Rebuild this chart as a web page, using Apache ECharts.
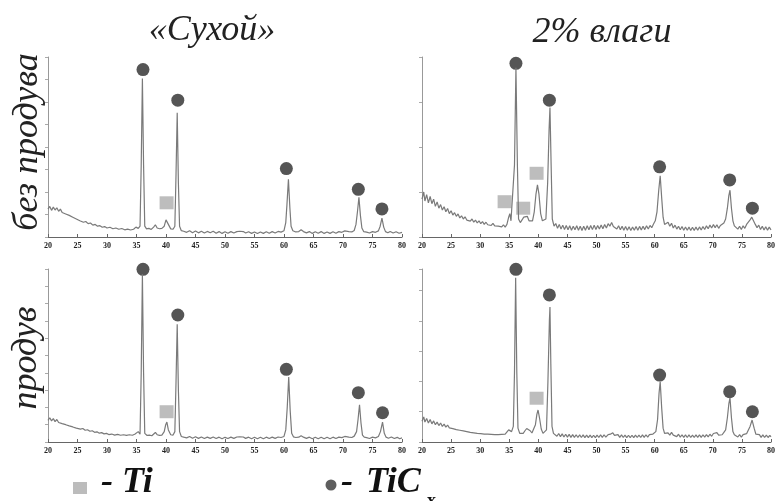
<!DOCTYPE html>
<html><head><meta charset="utf-8">
<script src="https://cdn.jsdelivr.net/npm/echarts@6/dist/echarts.min.js"></script>
<style>html,body{margin:0;padding:0;background:#fff}#c{width:778px;height:501px}</style>
</head><body><div id="c"></div>
<script>
// Column / row titles
const colTitles = ['«Сухой»', '2% влаги'];
const rowTitles = ['без продува', 'продув'];
const legendLabels = ['Ti', 'TiC', 'x'];
const xTicks = [20, 80, 5];

// Panel A: «Сухой», без продува  [2θ, intensity %]
const patternA = [[20,15.5],[20.3,17],[20.6,14.8],[20.9,16.6],[21.2,15],[21.5,16.2],[21.8,14.3],[22.1,15.5],[22.4,13.6],[22.7,14.4],[23,12.8],[23.3,13.5],[23.6,12],[23.9,12.6],[24.2,11],[24.5,11.5],[24.8,10],[25.1,10.4],[25.4,9],[25.7,9.4],[26,8.2],[26.4,8.6],[26.8,7.4],[27.2,7.8],[27.6,6.6],[28,7],[28.4,6],[28.8,6.3],[29.2,5.4],[29.6,5.8],[30,5],[30.5,5.4],[31,4.6],[31.5,5],[32,4.3],[32.5,4.7],[33,4],[33.5,4.4],[34,3.9],[34.5,4.3],[34.9,5.5],[35.1,6.5],[35.3,4.8],[35.6,6],[35.8,40],[36,88],[36.2,40],[36.4,6],[36.7,4.5],[37.1,4.8],[37.5,4.2],[37.9,5.5],[38.2,6.8],[38.5,5],[38.9,4.6],[39.3,4.8],[39.7,6],[40,9.5],[40.15,10.5],[40.4,7],[40.8,4.5],[41.2,4.3],[41.5,6],[41.7,35],[41.9,69],[42.1,30],[42.3,6],[42.6,3.5],[43,3.2],[43.5,2.6],[44,3.5],[44.5,2.4],[45,3.3],[45.5,2.3],[46,3.2],[46.5,2.2],[47,3.1],[47.5,2.4],[48,3.2],[48.5,2.1],[49,3],[49.5,2],[50,2.9],[50.5,2.1],[51,3],[51.5,2.2],[52,3],[52.5,3.2],[52.8,4],[53.1,3],[53.5,2.2],[54,2.9],[54.5,2],[55,2.8],[55.5,1.9],[56,2.8],[56.5,2],[57,2.9],[57.5,2.1],[58,3],[58.5,2.2],[59,3.1],[59.5,2.7],[60,3.5],[60.3,8],[60.5,18],[60.75,32],[61,16],[61.2,6],[61.5,3.5],[62,2.8],[62.5,3],[62.9,4],[63.3,3],[63.8,2.3],[64.3,3],[64.8,2],[65.3,2.9],[65.8,2.1],[66.3,3],[66.8,2],[67.3,2.8],[67.8,2],[68.3,2.9],[68.8,2.1],[69.3,3],[69.8,2.6],[70.3,3.4],[70.6,3.8],[71,3],[71.5,2.8],[71.9,3.6],[72.2,7],[72.45,14],[72.7,22],[72.95,12],[73.2,5],[73.5,3],[74,2.7],[74.5,2.2],[75,3],[75.5,2.6],[76,3.4],[76.3,6],[76.6,10.5],[76.9,5.5],[77.2,3],[77.6,2.4],[78,3.1],[78.5,2.2],[79,2.9],[79.5,2.1],[80,2.6]];
const ticA = [[36.1,93],[42.0,76],[60.4,38],[72.6,26.5],[76.6,15.6]];
const tiA = [[40.1,19]];

// Panel B: 2% влаги, без продува
const patternB = [[20,21],[20.3,25],[20.5,20],[20.8,23.5],[21.1,19],[21.4,22.5],[21.7,18.5],[22,21],[22.3,17],[22.6,19.5],[22.9,16],[23.2,18],[23.5,15],[23.8,16.8],[24.1,14],[24.4,15.8],[24.7,13],[25,14.6],[25.3,12.2],[25.6,13.5],[25.9,11.5],[26.2,12.8],[26.5,10.6],[26.8,11.8],[27.1,10],[27.4,11.2],[27.7,9.4],[28,10.5],[28.3,8.8],[28.6,10],[28.9,8.2],[29.2,9.4],[29.5,7.8],[29.8,9],[30.1,7.4],[30.4,8.6],[30.7,7],[31,8.2],[31.3,6.8],[31.6,7.9],[31.9,6.4],[32.2,7.6],[32.5,6.2],[32.8,7.3],[33.1,6],[33.4,7],[33.7,5.6],[34,6.8],[34.3,5.5],[34.6,7],[34.9,11],[35.1,13],[35.3,9],[35.6,8],[35.9,40],[36.15,94],[36.4,40],[36.6,10],[36.9,8],[37.2,9.5],[37.5,11],[37.8,10.5],[38.1,11.5],[38.4,9],[38.7,8],[39,9],[39.3,14],[39.6,24],[39.85,29],[40.1,24],[40.4,13],[40.7,9],[41,8.5],[41.3,10],[41.6,30],[41.85,60],[42,72],[42.2,40],[42.4,10],[42.7,6],[43,7.5],[43.3,4.8],[43.6,7],[43.9,4.4],[44.2,6.6],[44.5,4.2],[44.8,6.4],[45.1,4],[45.4,6.2],[45.7,3.8],[46,6],[46.3,4],[46.6,6.2],[46.9,3.8],[47.2,6],[47.5,3.6],[47.8,6],[48.1,3.8],[48.4,6.2],[48.7,4],[49,6.4],[49.3,4.1],[49.6,6.6],[49.9,4.2],[50.2,6.4],[50.5,4.4],[50.8,6.7],[51.1,4.6],[51.4,6.9],[51.7,5],[52,7.4],[52.3,6],[52.6,8],[52.9,5.8],[53.2,6.8],[53.5,4.4],[53.8,6.2],[54.1,4],[54.4,6],[54.7,3.8],[55,5.8],[55.3,3.7],[55.6,5.7],[55.9,3.6],[56.2,5.6],[56.5,3.7],[56.8,5.8],[57.1,3.8],[57.4,5.9],[57.7,3.9],[58,6],[58.3,4.1],[58.6,6.2],[58.9,4.4],[59.2,6.4],[59.5,5.2],[59.8,7.2],[60.1,9],[60.4,14],[60.7,26],[60.95,34],[61.2,22],[61.45,11],[61.7,7],[62,6.5],[62.3,8.2],[62.6,6],[62.9,7.6],[63.2,5],[63.5,6.6],[63.8,4.4],[64.1,6],[64.4,4],[64.7,5.8],[65,3.8],[65.3,5.6],[65.6,3.7],[65.9,5.5],[66.2,3.6],[66.5,5.4],[66.8,3.6],[67.1,5.5],[67.4,3.7],[67.7,5.6],[68,3.9],[68.3,5.8],[68.6,4.2],[68.9,6.2],[69.2,4.6],[69.5,6.6],[69.8,5],[70.1,6.9],[70.4,5.2],[70.7,6.8],[71,4.8],[71.3,6.4],[71.6,5.4],[71.9,7.8],[72.2,10],[72.5,16],[72.75,23],[72.95,26],[73.2,16],[73.45,9],[73.7,6.2],[74,6.2],[74.3,4.4],[74.6,6],[74.9,4.2],[75.2,6.2],[75.5,4.8],[75.8,7],[76.1,7.5],[76.4,9.5],[76.7,11],[77,10],[77.3,7],[77.6,5.2],[77.9,6.6],[78.2,4.2],[78.5,6],[78.8,3.9],[79.1,5.7],[79.4,3.8],[79.7,5.5],[80,4]];
const ticB = [[36.15,96.5],[41.9,76],[60.85,39],[72.9,31.7],[76.8,16]];
const tiB = [[34.2,19.6],[37.4,16],[39.7,35.4]];

// Panel C: «Сухой», продув
const patternC = [[20,12.5],[20.3,14],[20.6,12.2],[20.9,13.5],[21.2,11.8],[21.5,13],[21.8,11.3],[22.1,12.2],[22.4,10.6],[22.7,11.4],[23,10],[23.3,10.6],[23.6,9.3],[23.9,9.9],[24.2,8.7],[24.5,9.2],[24.8,8],[25.1,8.5],[25.5,7.4],[25.9,7.8],[26.3,6.8],[26.7,7.1],[27.1,6.2],[27.5,6.5],[27.9,5.6],[28.3,5.9],[28.7,5.1],[29.1,5.4],[29.5,4.7],[29.9,5],[30.3,4.3],[30.8,4.6],[31.3,4],[31.8,4.4],[32.3,3.9],[32.8,4.2],[33.3,3.8],[33.8,4.2],[34.3,3.9],[34.7,4.5],[35,5.5],[35.3,6],[35.6,4.5],[35.8,40],[36,97],[36.2,40],[36.4,5],[36.8,3.8],[37.2,4],[37.6,3.6],[37.9,4.6],[38.2,5.5],[38.5,4.2],[38.9,3.8],[39.3,4],[39.7,6],[39.95,10],[40.15,11.5],[40.4,7],[40.8,4.2],[41.2,4],[41.5,6],[41.7,35],[41.9,68],[42.1,30],[42.3,6],[42.6,3.2],[43,2.8],[43.5,2.4],[44,3.2],[44.5,2.2],[45,3],[45.5,2.1],[46,2.9],[46.5,2],[47,2.8],[47.5,2.1],[48,2.9],[48.5,2],[49,2.8],[49.5,1.9],[50,2.7],[50.5,2],[51,2.8],[51.5,2.1],[52,2.9],[52.5,3],[52.8,3.8],[53.1,2.9],[53.5,2.1],[54,2.8],[54.5,1.9],[55,2.7],[55.5,1.9],[56,2.7],[56.5,1.9],[57,2.8],[57.5,2],[58,2.8],[58.5,2.1],[59,2.9],[59.5,2.6],[60,3.2],[60.3,7],[60.55,20],[60.8,37.6],[61.05,18],[61.3,5],[61.6,3],[62,2.6],[62.5,2.8],[62.9,3.6],[63.3,2.8],[63.8,2.1],[64.3,2.8],[64.8,1.9],[65.3,2.7],[65.8,1.9],[66.3,2.8],[66.8,1.9],[67.3,2.7],[67.8,1.9],[68.3,2.8],[68.8,2],[69.3,2.8],[69.8,2.5],[70.3,3.2],[70.6,3.6],[71,2.8],[71.5,2.6],[71.9,3.4],[72.3,6],[72.55,13],[72.8,21.5],[73.05,11],[73.3,4],[73.6,2.8],[74,2.5],[74.5,2],[75,2.8],[75.5,2.4],[76,3.2],[76.35,6],[76.7,11.5],[77,5],[77.3,2.8],[77.7,2.2],[78.2,2.9],[78.7,2],[79.2,2.7],[79.6,1.9],[80,2.4]];
const ticC = [[36.1,99.8],[42.0,73.4],[60.4,42],[72.6,28.5],[76.7,16.9]];
const tiC = [[40.1,17.5]];

// Panel D: 2% влаги, продув
const patternD = [[20,12],[20.3,14.5],[20.5,11.5],[20.8,13.6],[21.1,11],[21.4,13],[21.7,10.5],[22,12.2],[22.3,10],[22.6,11.5],[22.9,9.5],[23.2,11],[23.5,9],[23.8,10.3],[24.1,8.6],[24.4,9.8],[24.7,8.2],[25,9.2],[25.3,7.7],[25.6,8.7],[25.9,7.2],[26.2,8.2],[26.5,6.8],[26.8,7.7],[27.1,6.4],[27.4,7.2],[27.7,6],[28,6.9],[28.3,5.6],[28.6,6.5],[28.9,5.3],[29.2,6.1],[29.5,5],[29.8,5.9],[30.1,4.8],[30.4,5.7],[30.7,4.6],[31,5.5],[31.3,4.5],[31.6,5.4],[31.9,4.4],[32.2,5.3],[32.5,4.3],[32.8,5.2],[33.1,4.3],[33.4,5.2],[33.7,4.4],[34,5.3],[34.3,4.5],[34.6,5.6],[34.9,7],[35.1,7.5],[35.4,6],[35.7,9],[35.9,40],[36.1,95],[36.3,40],[36.5,8],[36.8,5],[37.1,4],[37.4,5],[37.7,6.5],[38,7.8],[38.3,8],[38.6,6.5],[38.9,5.2],[39.2,6],[39.5,10],[39.75,16],[39.95,18.5],[40.2,14],[40.5,7.5],[40.8,5],[41.1,5.2],[41.4,7],[41.65,35],[41.9,70],[42,78],[42.15,45],[42.35,9],[42.6,5],[42.9,4.6],[43.2,3.3],[43.5,4.9],[43.8,3.1],[44.1,4.7],[44.4,2.9],[44.7,4.5],[45,2.8],[45.3,4.4],[45.6,2.7],[45.9,4.3],[46.2,2.7],[46.5,4.2],[46.8,2.6],[47.1,4.1],[47.4,2.6],[47.7,4.1],[48,2.5],[48.3,4],[48.6,2.5],[48.9,4],[49.2,2.5],[49.5,3.9],[49.8,2.5],[50.1,4],[50.4,2.6],[50.7,4.1],[51,2.7],[51.3,4.2],[51.6,2.8],[52,4.3],[52.4,4.5],[52.8,5.3],[53.1,3.8],[53.4,3],[53.7,4.3],[54,2.7],[54.3,4.1],[54.6,2.6],[54.9,4],[55.2,2.5],[55.5,3.9],[55.8,2.5],[56.1,3.9],[56.4,2.5],[56.7,4],[57,2.6],[57.3,4],[57.6,2.6],[57.9,4.1],[58.2,2.7],[58.5,4.2],[58.8,2.8],[59.1,4.3],[59.4,3.2],[59.7,4.6],[60,4.8],[60.2,6],[60.5,13],[60.75,28],[60.95,35],[61.2,20],[61.45,8],[61.7,5],[62,4.2],[62.3,5.3],[62.6,4],[62.9,5.6],[63.2,4],[63.5,5],[63.8,3.1],[64.1,4.5],[64.4,2.8],[64.7,4.2],[65,2.7],[65.3,4.1],[65.6,2.6],[65.9,4.1],[66.2,2.6],[66.5,4],[66.8,2.6],[67.1,4.1],[67.4,2.7],[67.7,4.1],[68,2.7],[68.3,4.2],[68.6,2.8],[68.9,4.3],[69.2,3],[69.5,4.5],[69.8,3.3],[70.1,4.9],[70.4,4.6],[70.7,5.4],[71,4],[71.3,4.8],[71.6,4.2],[71.9,5.6],[72.2,7],[72.5,14],[72.75,22],[72.95,25.5],[73.2,14],[73.45,6],[73.7,4.2],[74,4],[74.3,2.9],[74.6,4.3],[74.9,2.8],[75.2,4.3],[75.5,3.4],[75.8,4.8],[76.1,5.5],[76.4,9],[76.75,12.7],[77.1,8],[77.4,4.5],[77.7,3.4],[78,4.3],[78.3,2.7],[78.6,4.1],[78.9,2.6],[79.2,4],[79.5,2.6],[79.8,3.8],[80,3]];
const ticD = [[36.15,99.8],[41.9,85],[60.85,38.7],[72.9,29.1],[76.8,17.5]];
const tiD = [[39.7,25.3]];

const patterns = [patternA, patternB, patternC, patternD];
const ticMarks = [ticA, ticB, ticC, ticD];
const tiMarks = [tiA, tiB, tiC, tiD];
const yTickStep = [12.5, 25, 10, 17.5];

const SERIF = "'Liberation Serif','Times New Roman','DejaVu Serif',serif";
const grids = [
  {left: 48, top: 57, width: 354, height: 180},
  {left: 422, top: 57, width: 354, height: 180},
  {left: 48, top: 269, width: 354, height: 173},
  {left: 422, top: 269, width: 354, height: 173}
];
const xAxes = grids.map((g, i) => ({
  type: 'value', gridIndex: i, min: xTicks[0], max: xTicks[1], interval: xTicks[2],
  axisLine: {lineStyle: {color: '#666', width: 1}},
  axisTick: {show: true, inside: true, length: 3, lineStyle: {color: '#666'}},
  axisLabel: {fontSize: 8, fontWeight: 'bold', fontFamily: SERIF, color: '#222', margin: 5},
  splitLine: {show: false}
}));
const yAxes = grids.map((g, i) => ({
  type: 'value', gridIndex: i, min: 0, max: 100, interval: yTickStep[i],
  axisLine: {show: true, lineStyle: {color: '#999', width: 1}},
  axisTick: {show: true, length: 3, lineStyle: {color: '#aaa'}},
  axisLabel: {show: false},
  splitLine: {show: false}
}));
const series = [];
patterns.forEach((p, i) => {
  series.push({type: 'line', xAxisIndex: i, yAxisIndex: i, data: p, showSymbol: false,
    lineStyle: {color: '#7a7a7a', width: 1.2}, silent: true});
  series.push({type: 'scatter', xAxisIndex: i, yAxisIndex: i, data: ticMarks[i], symbol: 'circle',
    symbolSize: 13, itemStyle: {color: '#555555', opacity: 1}, clip: false, silent: true});
  series.push({type: 'scatter', xAxisIndex: i, yAxisIndex: i, data: tiMarks[i], symbol: 'rect',
    symbolSize: [14, 13], itemStyle: {color: '#bdbdbd', opacity: 1}, clip: false, silent: true});
});

const titleStyle = {font: 'italic 36px ' + SERIF, fill: '#222', align: 'center', verticalAlign: 'middle'};
const legendFont = 'italic bold 36px ' + SERIF;
const graphic = [
  {type: 'text', x: 212, y: 31, style: Object.assign({text: colTitles[0]}, titleStyle)},
  {type: 'text', x: 602, y: 33, style: Object.assign({text: colTitles[1]}, titleStyle)},
  {type: 'text', x: 28, y: 142, rotation: Math.PI / 2, style: Object.assign({text: rowTitles[0]}, titleStyle)},
  {type: 'text', x: 27, y: 358, rotation: Math.PI / 2, style: Object.assign({text: rowTitles[1]}, titleStyle)},
  {type: 'rect', shape: {x: 73, y: 482, width: 14, height: 12}, style: {fill: '#bcbcbc'}},
  {type: 'text', x: 101, y: 483, style: {text: '- ' + legendLabels[0], font: legendFont, fill: '#111', verticalAlign: 'middle'}},
  {type: 'circle', shape: {cx: 331, cy: 485, r: 5.5}, style: {fill: '#5e5e5e'}},
  {type: 'text', x: 341, y: 483, style: {text: '-', font: legendFont, fill: '#111', verticalAlign: 'middle'}},
  {type: 'text', x: 366, y: 483, style: {text: legendLabels[1], font: legendFont, fill: '#111', verticalAlign: 'middle'}},
  {type: 'text', x: 427, y: 501, style: {text: legendLabels[2], font: 'bold 18px ' + SERIF, fill: '#111', verticalAlign: 'middle'}}
];

const chart = echarts.init(document.getElementById('c'), null, {renderer: 'canvas'});
chart.setOption({
  animation: false, backgroundColor: '#fff',
  grid: grids, xAxis: xAxes, yAxis: yAxes, series: series, graphic: graphic
});
</script></body></html>
